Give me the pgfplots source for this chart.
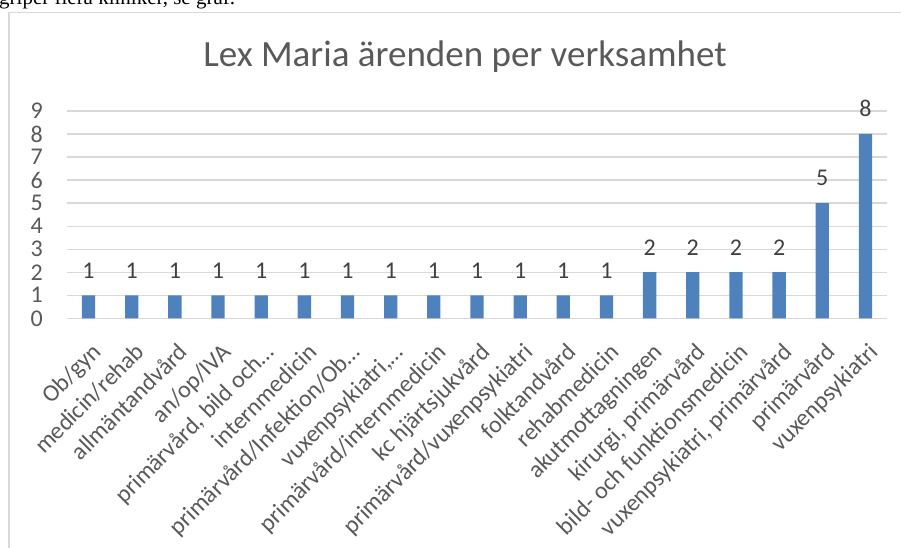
\documentclass[border=0pt]{standalone}
\usepackage{pgfplots}
\pgfplotsset{compat=1.18}
\usepackage{fontspec}
\setmainfont{Carlito}
\newfontfamily\serif{Liberation Serif}

\definecolor{barblue}{HTML}{4F81BD}
\definecolor{txtgray}{HTML}{595959}
\definecolor{lblgray}{HTML}{404040}
\definecolor{gridgray}{HTML}{D9D9D9}

\begin{document}
\begin{tikzpicture}[x=1pt,y=1pt]
  \path[use as bounding box, clip] (0,0) rectangle (901,547);
  % rest of the sentence above the chart
  \node[anchor=base west, inner sep=0pt, font=\serif\fontsize{21}{24}\selectfont]
    at (-1,542) {griper flera kliniker, se graf.};
  % chart frame
  \draw[gridgray, line width=1.5pt] (9,-10) -- (9,534.5) -- (912,534.5);
  \node[anchor=base, inner sep=0pt, text=txtgray, font=\fontsize{37}{44}\selectfont]
    at (465,480) {Lex Maria ärenden per verksamhet};

  \begin{axis}[
      at={(67pt,228.7pt)}, anchor=south west,
      scale only axis,
      width=820pt, height=207.4pt,
      xmin=-0.5, xmax=18.5,
      ymin=0, ymax=9,
      ytick={0,...,9},
      xtick={0,...,18},
      xticklabels={
        {Ob/gyn},{medicin/rehab},{allmäntandvård},{an/op/IVA},
        {primärvård, bild och…},{internmedicin},{primärvård/Infektion/Ob…},
        {vuxenpsykiatri,…},{primärvård/internmedicin},{kc hjärtsjukvård},
        {primärvård/vuxenpsykiatri},{folktandvård},{rehabmedicin},
        {akutmottagningen},{kirurgi, primärvård},{bild- och funktionsmedicin},
        {vuxenpsykiatri, primärvård},{primärvård},{vuxenpsykiatri}},
      axis line style={draw=none},
      major tick length=0pt,
      ymajorgrids,
      grid style={gridgray, line width=1.2pt},
      /pgf/number format/assume math mode=true,
      tick label style={font=\fontsize{24}{28}\selectfont, text=txtgray, inner sep=0pt},
      yticklabel style={anchor=east, xshift=-24pt},
      xticklabel style={xshift=2pt, yshift=-23pt, rotate=45, anchor=north east},
      clip=false,
      ybar, bar width=13.3pt,
      nodes near coords,
      every node near coord/.append style={font=\fontsize{24}{28}\selectfont,
        text=lblgray, inner sep=0pt, yshift=17pt},
    ]
    \addplot[fill=barblue, draw=none] coordinates {
      (0,1) (1,1) (2,1) (3,1) (4,1) (5,1) (6,1) (7,1) (8,1) (9,1)
      (10,1) (11,1) (12,1) (13,2) (14,2) (15,2) (16,2) (17,5) (18,8)
    };
  \end{axis}
\end{tikzpicture}
\end{document}
